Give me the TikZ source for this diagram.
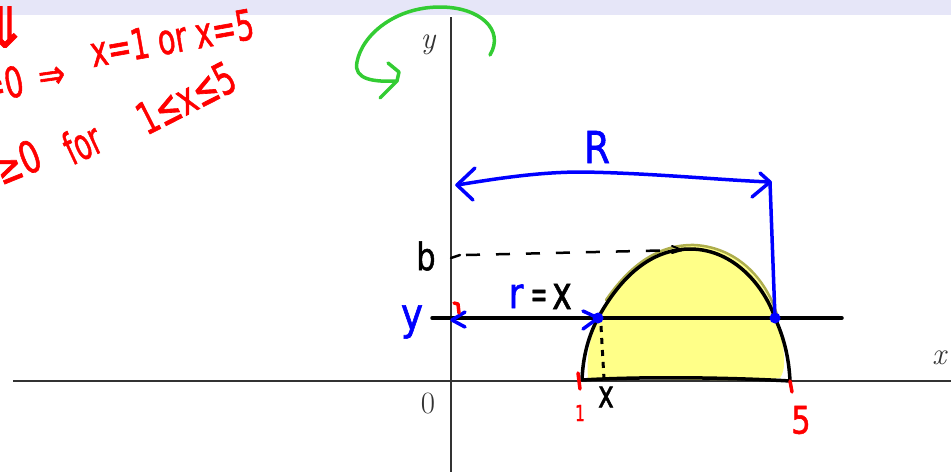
\documentclass[tikz,border=0pt]{standalone}
\usepackage{fontspec}
\newfontfamily\hand[FakeBold=1.5]{DejaVu Sans}
\definecolor{band}{HTML}{E6E6F8}
\definecolor{hred}{HTML}{FF0000}
\definecolor{hblue}{HTML}{0000FF}
\definecolor{hgreen}{HTML}{33CC33}
\definecolor{fillyel}{HTML}{FFFF88}
\definecolor{edgeol}{HTML}{9A9A20}
\definecolor{axisgray}{HTML}{333333}
\tikzset{
  axisline/.style={draw=axisgray, line width=1.2pt},
  axlab/.style={font=\fontsize{31}{36}\selectfont, text=axisgray, inner sep=0pt},
  pen/.style={line width=3.5pt, line cap=round, line join=round},
  redpen/.style={pen, draw=hred},
  bluepen/.style={pen, draw=hblue},
  blackpen/.style={pen, draw=black},
  greenpen/.style={pen, draw=hgreen},
  handtxt/.style={font=\hand\fontsize{#1}{#1}\selectfont, inner sep=0pt},
  redtxt/.style={handtxt=#1, text=hred},
  bluetxt/.style={handtxt=#1, text=hblue},
  blacktxt/.style={handtxt=#1, text=black},
}
\begin{document}
\begin{tikzpicture}[x=1pt,y=-1pt]
\useasboundingbox (0,0) rectangle (951,472);
\fill[band] (0,0) rectangle (951,15);

% axes
\coordinate (xl) at (13,381);
\coordinate (xr) at (951,381);
\coordinate (yt) at (451,17);
\coordinate (yb) at (451,472);
\draw[axisline] (xl) -- (xr);
\draw[axisline] (yt) -- (yb);
\node[axlab] (ly) at (428,45) {\itshape y};
\node[axlab] (lx) at (939,358) {\itshape x};
\node[axlab] (l0) at (428,403) {0};

% red notes
\node[redtxt=56] (n1) at (5,27) {⇓};
\node[redtxt=42, rotate=12, anchor=east, xscale=0.7] (n2a) at (23,80) {=0};
\node[redtxt=40, rotate=8, xscale=0.8] (n2b) at (52,78) {⇒};
\node[redtxt=42, rotate=10, xscale=0.68] (n2c) at (172,38) {x=1 or x=5};
\node[redtxt=44, rotate=22, anchor=east, xscale=0.72] (n3a) at (39,153) {≥0};
\node[redtxt=44, rotate=25, xscale=0.6] (n3b) at (82,143) {for};
\node[redtxt=44, rotate=27, xscale=0.67] (n3c) at (186,98) {1≤x≤5};

% green rotation arrow
\coordinate (g0) at (490,55);
\coordinate (g1) at (440,7);
\coordinate (g2) at (357,62);
\coordinate (g3) at (396,81);
\draw[greenpen] (g0) .. controls (505,30) and (480,7) .. (g1)
  .. controls (395,7) and (362,35) .. (g2)
  .. controls (353,80) and (375,82) .. (g3);
\draw[greenpen] (388,63) -- (399,72) -- (397,81) -- (380,98);

% yellow solid
\fill[fillyel] (588,378) .. controls (586,350) and (592,330) .. (602,311)
  .. controls (625,270) and (655,245) .. (695,246)
  .. controls (740,249) and (770,285) .. (780,330)
  .. controls (785,355) and (786,370) .. (780,378)
  .. controls (740,383) and (640,377) .. (592,380) -- cycle;
\draw[edgeol, line width=2.5pt, line cap=round, opacity=0.8]
  (606,300) .. controls (628,268) and (656,244) .. (695,245)
  .. controls (740,248) and (768,282) .. (778,318);

% curve
\coordinate (c1) at (582,380);
\coordinate (pA) at (598,318);
\coordinate (top) at (690,249);
\coordinate (pB) at (775,318);
\coordinate (c5) at (790,381);
\draw[blackpen] (c1) .. controls (583,355) and (589,335) .. (pA)
  .. controls (620,278) and (650,249) .. (top)
  .. controls (735,249) and (765,288) .. (pB)
  .. controls (785,340) and (789,360) .. (c5)
  .. controls (740,378) and (650,376) .. (c1);

% horizontal slice line
\coordinate (hl) at (432,318);
\coordinate (hr) at (842,318);
\draw[blackpen] (hl) -- (hr);

% dashed lines
\coordinate (bL) at (452,257);
\coordinate (bR) at (682,250);
\draw[line width=2.5pt, line cap=round] (451,258) -- (460,255);
\draw[line width=2.5pt, dash pattern=on 14pt off 16pt] (466,255) -- (bR);
\draw[line width=2pt, line cap=round] (672,246) -- (682,250) -- (672,253);
\coordinate (xd1) at (601,326);
\coordinate (xd2) at (604,379);
\draw[line width=3pt, dash pattern=on 6pt off 6pt] (xd1) -- (xd2);

% blue R arrow
\coordinate (rL) at (457,185);
\coordinate (rM) at (582,172);
\coordinate (rR) at (770,182);
\draw[bluepen] (rL) .. controls (500,178) and (540,172) .. (rM)
  .. controls (650,173) and (720,180) .. (rR) -- (pB);
\draw[bluepen] (475,168) -- (rL) -- (473,200);
\draw[bluepen] (760,173) -- (rR) -- (752,197);
\node[bluetxt=44, xscale=0.85] (lR) at (597,147) {R};

% r = x arrows
\draw[bluepen] (465,312) -- (452,320) -- (465,327);
\draw[bluepen] (583,311) -- (pA) -- (583,329);
\fill[hblue] (pA) circle (5.5pt);
\fill[hblue] (pB) circle (5.5pt);
\node[bluetxt=42, anchor=base, xscale=0.85] (lr) at (516,308) {r};
\node[blacktxt=40, anchor=base, xscale=0.5] (leq) at (539,308) {=};
\node[blacktxt=46, anchor=base, xscale=0.72] (lxr) at (562,309) {x};

% labels
\node[bluetxt=44, xscale=0.85] (ly2) at (412,322) {y};
\node[blacktxt=38, xscale=0.8] (lb) at (426,256) {b};
\node[blacktxt=38, xscale=0.7] (lxx) at (606,397) {x};
\draw[redpen] (454,303) -- (458,304) -- (459,313);
\draw[redpen] (578,373) -- (580,389);
\draw[redpen] (790,381) -- (792,392);
\node[redtxt=22, xscale=0.7] (l1) at (580,413) {1};
\node[redtxt=38, xscale=0.8] (l5) at (801,420) {5};
\end{tikzpicture}
\end{document}
